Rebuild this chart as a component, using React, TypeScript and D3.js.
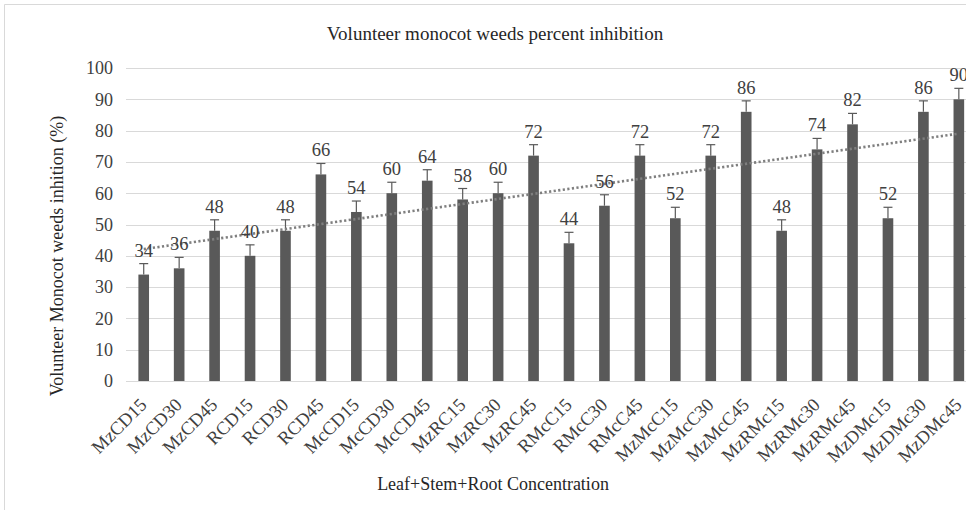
import React from "react";
import * as d3 from "d3";

const categories = [
  "MzCD15", "MzCD30", "MzCD45", "RCD15", "RCD30", "RCD45",
  "McCD15", "McCD30", "McCD45", "MzRC15", "MzRC30", "MzRC45",
  "RMcC15", "RMcC30", "RMcC45", "MzMcC15", "MzMcC30", "MzMcC45",
  "MzRMc15", "MzRMc30", "MzRMc45", "MzDMc15", "MzDMc30", "MzDMc45",
];
const values = [34, 36, 48, 40, 48, 66, 54, 60, 64, 58, 60, 72, 44, 56, 72, 52, 72, 86, 48, 74, 82, 52, 86, 90];
const errors = [3.5, 3.5, 3.5, 3.5, 3.5, 3.5, 3.5, 3.5, 3.5, 3.5, 3.5, 3.5, 3.5, 3.5, 3.5, 3.5, 3.5, 3.5, 3.5, 3.5, 3.5, 3.5, 3.5, 3.5];
const yTicks = [0, 10, 20, 30, 40, 50, 60, 70, 80, 90, 100];

const title = "Volunteer monocot weeds percent inhibition";
const yTitle = "Volunteer Monocot weeds inhition (%)";
const xTitle = "Leaf+Stem+Root Concentration";

const W = 966;
const H = 510;
const FONT = "'Liberation Serif', 'Times New Roman', serif";

export default function App() {
  const left = 126;
  const step = 35.44;
  const x = d3
    .scaleBand<string>()
    .domain(categories)
    .range([left, left + step * categories.length])
    .paddingInner(0.7)
    .paddingOuter(0.35);
  const y = d3.scaleLinear().domain([0, 100]).range([381, 68]);

  // linear trendline (least squares)
  const n = values.length;
  const xs = values.map((_, i) => i + 1);
  const mx = d3.mean(xs) as number;
  const my = d3.mean(values) as number;
  const sxy = d3.sum(xs.map((xi, i) => (xi - mx) * (values[i] - my)));
  const sxx = d3.sum(xs.map((xi) => (xi - mx) * (xi - mx)));
  const slope = sxy / sxx;
  const intercept = my - slope * mx;
  const cx = (c: string) => (x(c) as number) + x.bandwidth() / 2;
  const trend = d3
    .line<number>()
    .x((_, i) => (i === 0 ? cx(categories[0]) : cx(categories[n - 1])))
    .y((v) => y(v));
  const trendPts = [intercept + slope * 1, intercept + slope * n];

  const gridRight = left + step * categories.length;

  return (
    <>
      <style>{"body{margin:0;}"}</style>
      <svg width={W} height={H} style={{ display: "block", fontFamily: FONT }}>
        <rect x={0} y={0} width={W} height={H} fill="#fff" />
        {/* chart border */}
        <line x1={4.5} y1={4.5} x2={W} y2={4.5} stroke="#d9d9d9" />
        <line x1={4.5} y1={4.5} x2={4.5} y2={H} stroke="#d9d9d9" />

        <text x={495} y={40} textAnchor="middle" fontSize={19} fill="#262626">
          {title}
        </text>

        {/* gridlines */}
        {yTicks.map((t) => (
          <line
            key={t}
            x1={left}
            x2={gridRight}
            y1={Math.round(y(t)) + 0.5}
            y2={Math.round(y(t)) + 0.5}
            stroke="#d9d9d9"
            strokeWidth={1}
          />
        ))}
        {yTicks.map((t) => (
          <text
            key={"l" + t}
            x={113}
            y={y(t)}
            dy="0.35em"
            textAnchor="end"
            fontSize={18}
            fill="#404040"
          >
            {t}
          </text>
        ))}

        {/* bars */}
        {categories.map((c, i) => (
          <rect
            key={c}
            x={x(c)}
            y={y(values[i])}
            width={x.bandwidth()}
            height={y(0) - y(values[i])}
            fill="#595959"
          />
        ))}

        {/* error bars */}
        {categories.map((c, i) => {
          const xc = cx(c);
          const yt = y(values[i] + errors[i]);
          return (
            <g key={"e" + c} stroke="#595959" strokeWidth={1.2}>
              <line x1={xc} x2={xc} y1={y(values[i])} y2={yt} />
              <line x1={xc - 4.5} x2={xc + 4.5} y1={yt} y2={yt} />
            </g>
          );
        })}

        {/* trendline */}
        <path
          d={trend(trendPts) as string}
          fill="none"
          stroke="#7f7f7f"
          strokeWidth={2.6}
          strokeDasharray="2.2,2.4"
        />

        {/* data labels */}
        {categories.map((c, i) => (
          <text
            key={"d" + c}
            x={cx(c)}
            y={y(values[i] + errors[i]) - 7}
            textAnchor="middle"
            fontSize={18.5}
            fill="#404040"
          >
            {values[i]}
          </text>
        ))}

        {/* x labels */}
        {categories.map((c) => (
          <text
            key={"x" + c}
            transform={`translate(${cx(c) + 4},${406}) rotate(-45)`}
            textAnchor="end"
            fontSize={18.5}
            fill="#404040"
          >
            {c}
          </text>
        ))}

        <text x={493} y={490} textAnchor="middle" fontSize={18} fill="#262626">
          {xTitle}
        </text>
        <text
          transform={`translate(63,${256}) rotate(-90)`}
          textAnchor="middle"
          fontSize={18}
          fill="#262626"
        >
          {yTitle}
        </text>
      </svg>
    </>
  );
}
